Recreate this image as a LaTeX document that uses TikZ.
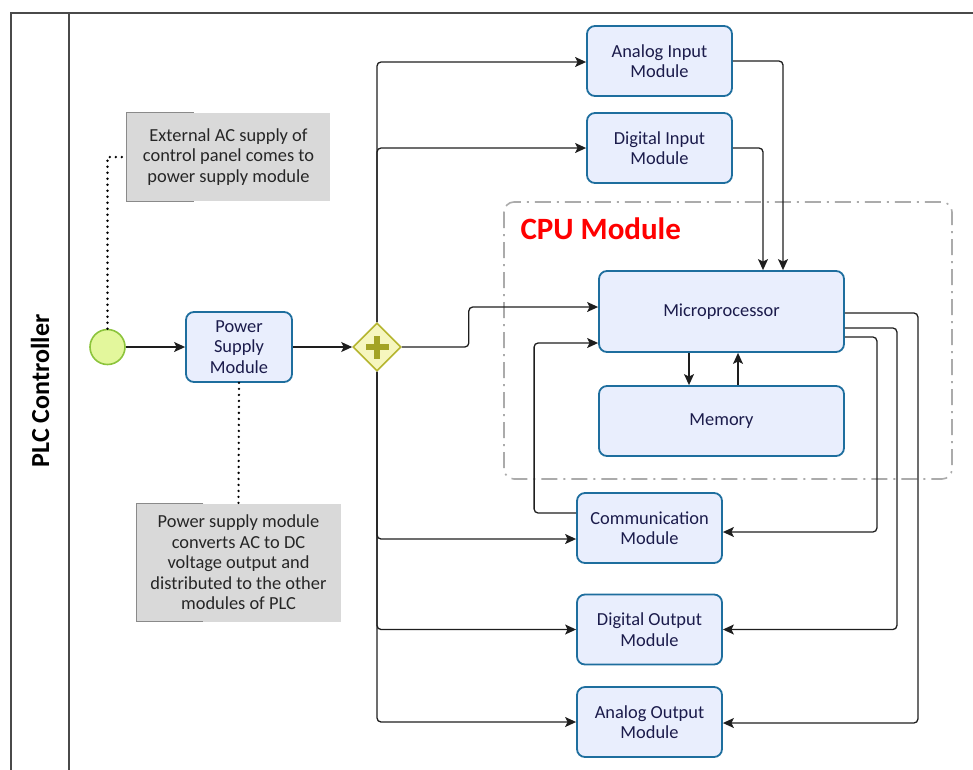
\documentclass[tikz,border=0pt]{standalone}
\usepackage{fontspec}
\setmainfont{Carlito}
\usetikzlibrary{shapes.geometric,arrows.meta}
\definecolor{modfill}{HTML}{E9EEFD}
\definecolor{moddraw}{HTML}{1E6E9E}
\definecolor{modtext}{HTML}{1B1B4B}
\definecolor{notefill}{HTML}{D9D9D9}
\definecolor{notedraw}{HTML}{8A8A8A}
\definecolor{startfill}{HTML}{E3F79C}
\definecolor{startdraw}{HTML}{8CC43C}
\definecolor{gwfill}{HTML}{F6F6BE}
\definecolor{gwdraw}{HTML}{B5B52E}
\definecolor{gwplus}{HTML}{A3A324}
\definecolor{linecol}{HTML}{1E1E1E}
\definecolor{poolcol}{HTML}{4A4A4A}
\definecolor{groupcol}{HTML}{ABABAB}
\tikzset{
  modbox/.style={draw=moddraw, line width=1.8pt, fill=modfill, rounded corners=8pt,
    text=modtext, align=center, inner sep=0pt,
    font=\fontsize{18.4}{20.5}\selectfont},
  notebox/.style={fill=notefill, text=black!85, align=center, inner sep=0pt,
    font=\fontsize{18.4}{20.5}\selectfont},
  flow/.style={draw=linecol, line width=1.3pt, rounded corners=4pt,
    -{Stealth[length=11pt,width=10pt,inset=2.5pt]}},
  assoc/.style={draw=black, line width=2.6pt, line cap=round, dash pattern=on 0pt off 6pt},
  startev/.style={circle, draw=startdraw, fill=startfill, line width=1.6pt,
    minimum size=35pt, inner sep=0pt},
  gateway/.style={diamond, draw=gwdraw, fill=gwfill, line width=1.6pt,
    minimum width=48pt, minimum height=48pt, inner sep=0pt},
}
\begin{document}
\begin{tikzpicture}[x=1pt, y=-1pt]
\useasboundingbox (0,0) rectangle (973,769);

% pool and lane
\draw[poolcol, line width=1.3pt] (980,13) -- (11,13) -- (11,780);
\draw[poolcol, line width=1.3pt] (69,13) -- (69,780);
\node[rotate=90, font=\fontsize{26}{30}\selectfont\bfseries] (pool) at (40,391) {PLC Controller};

% CPU group
\draw[groupcol, line width=1.6pt, rounded corners=10pt,
      dash pattern=on 16pt off 6pt on 2pt off 6pt] (504,202) rectangle (952,479);
\node[anchor=base west, text=red, font=\fontsize{31}{34}\selectfont\bfseries] (cpulabel)
  at (517,239) {CPU Module};

% annotations
\node[notebox, minimum width=203pt, minimum height=88pt] (note1) at (228.5,157)
  {External AC supply of\\control panel comes to\\power supply module};
\draw[notedraw, line width=1.2pt] ([xshift=67pt]note1.north west) -- (note1.north west)
  -- (note1.south west) -- ([xshift=67pt]note1.south west);
\node[notebox, minimum width=204pt, minimum height=118pt] (note2) at (238.5,562.5)
  {Power supply module\\converts AC to DC\\voltage output and\\distributed to the other\\modules of PLC};
\draw[notedraw, line width=1.2pt] ([xshift=67pt]note2.north west) -- (note2.north west)
  -- (note2.south west) -- ([xshift=67pt]note2.south west);

% events, gateway
\node[startev] (start) at (107.5,347) {};
\node[gateway] (gw) at (377,347) {};
\fill[gwplus] (gw.center) ++(-11.5,-3.2) rectangle ++(23,6.4);
\fill[gwplus] (gw.center) ++(-3.2,-11.5) rectangle ++(6.4,23);

% modules
\node[modbox, minimum width=106pt, minimum height=70pt] (psu) at (239,347) {Power\\Supply\\Module};
\node[modbox, minimum width=145pt, minimum height=70pt] (ai) at (659.5,61) {Analog Input\\Module};
\node[modbox, minimum width=145pt, minimum height=70pt] (di) at (659.5,148) {Digital Input\\Module};
\node[modbox, minimum width=245pt, minimum height=81pt] (mp) at (721.5,311.5) {Microprocessor};
\node[modbox, minimum width=245pt, minimum height=70pt] (mem) at (721.5,421) {Memory};
\node[modbox, minimum width=145pt, minimum height=70pt] (cm) at (649.5,528) {Communication\\Module};
\node[modbox, minimum width=145pt, minimum height=70pt] (do) at (649.5,629.5) {Digital Output\\Module};
\node[modbox, minimum width=145pt, minimum height=70pt] (ao) at (649.5,722) {Analog Output\\Module};

% associations
\draw[assoc] (start.north) |- (note1.west);
\draw[assoc] (psu.south) -- (note2.north);

% sequence flows
\draw[flow] (start) -- (psu);
\draw[flow] (psu) -- (gw);
\draw[flow] (gw.east) -- ++(67,0) |- ([yshift=4.5pt]mp.west);
\draw[flow] (gw.north) |- ([yshift=-1pt]ai.west);
\draw[flow] (gw.north) |- (di.west);
\draw[flow] (gw.south) |- ([yshift=-11pt]cm.west);
\draw[flow] (gw.south) |- (do.west);
\draw[flow] (gw.south) |- (ao.west);

\draw[flow] (ai.east) -| ([xshift=61.5pt]mp.north);
\draw[flow] (di.east) -| ([xshift=41.5pt]mp.north);
\draw[flow] ([xshift=-32.5pt]mp.south) -- ([xshift=-32.5pt]mem.north);
\draw[flow] ([xshift=16.5pt]mem.north) -- ([xshift=16.5pt]mp.south);

\draw[flow] ([yshift=-1.5pt]mp.east) -- ++(73,0) |- ([yshift=-1pt]ao.east);
\draw[flow] ([yshift=-16.5pt]mp.east) -- ++(52,0) |- (do.east);
\draw[flow] ([yshift=-25.5pt]mp.east) -- ++(32,0) |- ([yshift=-4pt]cm.east);
\draw[flow] ([yshift=15pt]cm.west) -- ++(-42,0) |- ([yshift=-31.5pt]mp.west);
\end{tikzpicture}
\end{document}
